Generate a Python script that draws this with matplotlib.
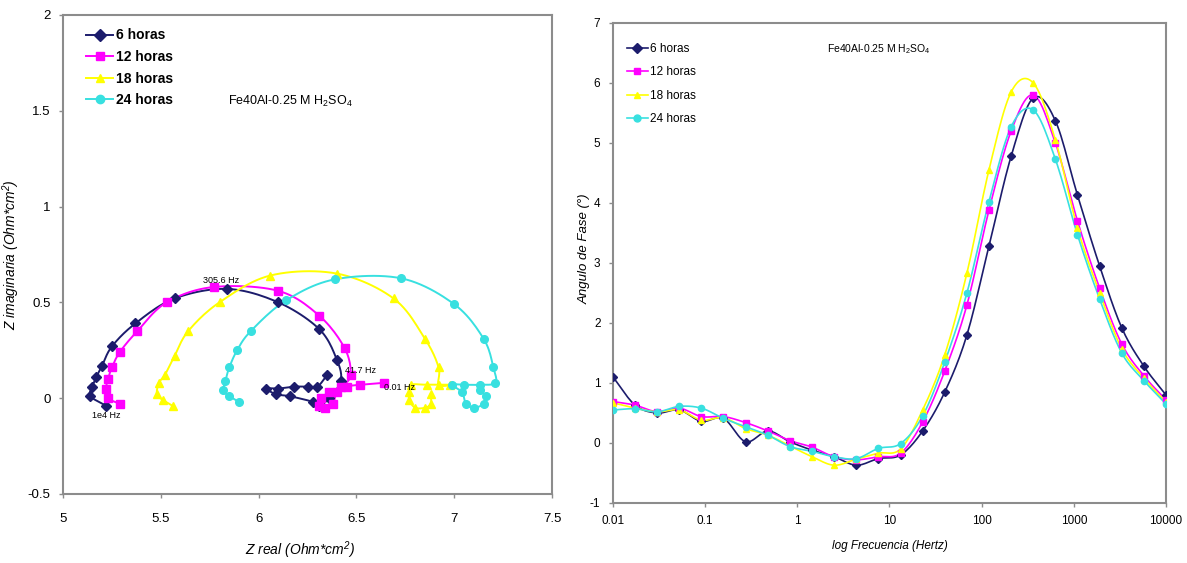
import numpy as np
import matplotlib
matplotlib.use("Agg")
import matplotlib.pyplot as plt
from matplotlib.lines import Line2D

plt.rcParams['font.family'] = ['Liberation Sans', 'DejaVu Sans']
plt.rcParams['mathtext.default'] = 'regular'
plt.rcParams['axes.unicode_minus'] = False

series = ["6 horas", "12 horas", "18 horas", "24 horas"]
colors = ["#1c1c6c", "#ff00ff", "#ffff00", "#38e0e0"]
markers = ["D", "s", "^", "o"]

# Nyquist data (Z real, Z imaginaria), high frequency -> low frequency
zr_6 = [5.22, 5.14, 5.15, 5.17, 5.20, 5.25, 5.37, 5.57, 5.84, 6.10, 6.31, 6.40, 6.42,
        6.36, 6.31, 6.28, 6.16, 6.09, 6.04, 6.10, 6.18, 6.25, 6.30, 6.35]
zi_6 = [-0.04, 0.01, 0.06, 0.11, 0.17, 0.27, 0.39, 0.52, 0.57, 0.50, 0.36, 0.20, 0.09,
        0.00, -0.04, -0.02, 0.01, 0.02, 0.05, 0.05, 0.06, 0.06, 0.06, 0.12]
zr_12 = [5.29, 5.23, 5.22, 5.23, 5.25, 5.29, 5.38, 5.53, 5.77, 6.10, 6.31, 6.44, 6.47,
         6.42, 6.36, 6.32, 6.31, 6.34, 6.38, 6.40, 6.45, 6.52, 6.64]
zi_12 = [-0.03, 0.00, 0.05, 0.10, 0.16, 0.24, 0.35, 0.50, 0.58, 0.56, 0.43, 0.26, 0.12,
         0.06, 0.03, 0.00, -0.04, -0.05, -0.03, 0.03, 0.06, 0.07, 0.08]
zr_18 = [5.56, 5.51, 5.48, 5.49, 5.52, 5.57, 5.64, 5.80, 6.06, 6.40, 6.69, 6.85, 6.92,
         6.92, 6.98, 6.86, 6.78, 6.77, 6.77, 6.80, 6.85, 6.88, 6.88]
zi_18 = [-0.04, -0.01, 0.02, 0.08, 0.12, 0.22, 0.35, 0.50, 0.64, 0.65, 0.52, 0.31, 0.16,
         0.07, 0.07, 0.07, 0.07, 0.03, -0.01, -0.05, -0.05, -0.03, 0.02]
zr_24 = [5.90, 5.85, 5.82, 5.83, 5.85, 5.89, 5.96, 6.14, 6.39, 6.73, 7.00, 7.15, 7.20,
         7.21, 7.13, 7.05, 6.99, 7.04, 7.06, 7.10, 7.15, 7.16, 7.13]
zi_24 = [-0.02, 0.01, 0.04, 0.09, 0.16, 0.25, 0.35, 0.51, 0.62, 0.625, 0.49, 0.31, 0.16,
         0.08, 0.07, 0.07, 0.07, 0.03, -0.03, -0.05, -0.03, 0.01, 0.04]

# Bode phase data
freq = [0.01, 0.0174, 0.0302, 0.0525, 0.0912, 0.158, 0.275, 0.479, 0.832, 1.45, 2.51,
        4.37, 7.59, 13.2, 22.9, 39.8, 69.2, 120, 209, 363, 631, 1096, 1905, 3311,
        5754, 10000]
fase_6 = [1.10, 0.63, 0.50, 0.55, 0.36, 0.41, 0.02, 0.20, 0.02, -0.12, -0.23, -0.37,
          -0.26, -0.20, 0.20, 0.85, 1.80, 3.28, 4.78, 5.75, 5.37, 4.13, 2.95, 1.92,
          1.28, 0.80]
fase_12 = [0.69, 0.63, 0.52, 0.58, 0.44, 0.44, 0.34, 0.20, 0.04, -0.07, -0.23, -0.28,
           -0.23, -0.17, 0.35, 1.20, 2.30, 3.88, 5.20, 5.80, 5.00, 3.70, 2.58, 1.65,
           1.12, 0.72]
fase_18 = [0.67, 0.58, 0.52, 0.55, 0.38, 0.42, 0.24, 0.13, -0.05, -0.23, -0.37, -0.27,
           -0.17, -0.10, 0.55, 1.47, 2.83, 4.55, 5.85, 6.00, 5.05, 3.58, 2.50, 1.57,
           1.08, 0.68]
fase_24 = [0.55, 0.57, 0.52, 0.61, 0.58, 0.41, 0.27, 0.13, -0.06, -0.14, -0.23, -0.26,
           -0.09, -0.01, 0.45, 1.35, 2.50, 4.02, 5.27, 5.55, 4.73, 3.47, 2.40, 1.50,
           1.04, 0.65]

nyq_r = [zr_6, zr_12, zr_18, zr_24]
nyq_i = [zi_6, zi_12, zi_18, zi_24]
fases = [fase_6, fase_12, fase_18, fase_24]


def smooth(x, y, n=12):
    # Catmull-Rom curve through the points, like a smoothed line
    x = np.asarray(x, float)
    y = np.asarray(y, float)
    px = np.concatenate([[2 * x[0] - x[1]], x, [2 * x[-1] - x[-2]]])
    py = np.concatenate([[2 * y[0] - y[1]], y, [2 * y[-1] - y[-2]]])
    t = np.linspace(0, 1, n, endpoint=False)
    ox, oy = [], []
    for i in range(1, len(px) - 2):
        for p, o in ((px, ox), (py, oy)):
            p0, p1, p2, p3 = p[i - 1], p[i], p[i + 1], p[i + 2]
            o.extend(0.5 * (2 * p1 + (-p0 + p2) * t
                            + (2 * p0 - 5 * p1 + 4 * p2 - p3) * t ** 2
                            + (-p0 + 3 * p1 - 3 * p2 + p3) * t ** 3))
    ox.append(x[-1])
    oy.append(y[-1])
    return np.array(ox), np.array(oy)


fig = plt.figure(figsize=(11.87, 5.63), dpi=100)
ax1 = fig.add_axes([0.0531, 0.1226, 0.412, 0.851])
ax2 = fig.add_axes([0.5164, 0.1066, 0.4659, 0.8526])

for ax in (ax1, ax2):
    for s in ax.spines.values():
        s.set_color("#8c8c8c")
        s.set_linewidth(1.5)
    ax.tick_params(direction="out", length=3, width=1, color="#8c8c8c",
                   labelsize=9.5, pad=6)

# Nyquist
for r, im, c, m in zip(nyq_r, nyq_i, colors, markers):
    sx, sy = smooth(r, im)
    ax1.plot(sx, sy, color=c, lw=1.4, zorder=2)
    ax1.plot(r, im, ls="none", marker=m, ms=5.5, color=c, mec=c, zorder=3)

ax1.set_xlim(5, 7.5)
ax1.set_ylim(-0.5, 2)
ax1.set_xticks([5, 5.5, 6, 6.5, 7, 7.5])
ax1.set_xticklabels(["5", "5.5", "6", "6.5", "7", "7.5"])
ax1.set_yticks([-0.5, 0, 0.5, 1, 1.5, 2])
ax1.set_yticklabels(["-0.5", "0", "0.5", "1", "1.5", "2"])
ax1.tick_params(axis="x", pad=11)
ax1.set_xlabel("Z real (Ohm*cm$^2$)", style="italic", fontsize=10)
ax1.xaxis.set_label_coords(0.485, -0.095)
ax1.set_ylabel("Z imaginaria (Ohm*cm$^2$)", style="italic", fontsize=10)
ax1.yaxis.set_label_coords(-0.083, 0.5)

ax1.text(5.81, 0.615, "305.6 Hz", fontsize=6.5, ha="center", va="center")
ax1.text(6.52, 0.145, "41.7 Hz", fontsize=6.5, ha="center", va="center")
ax1.text(6.72, 0.055, "0.01 Hz", fontsize=6.5, ha="center", va="center")
ax1.text(5.22, -0.09, "1e4 Hz", fontsize=6.5, ha="center", va="center")
ax1.text(6.16, 1.55, "Fe40Al-0.25 M H$_2$SO$_4$", fontsize=9, ha="center", va="center")

handles = [Line2D([], [], color=c, marker=m, ms=6, lw=1.4)
           for c, m in zip(colors, markers)]
ax1.legend(handles, series, loc="upper left", bbox_to_anchor=(0.028, 0.992),
           frameon=False, handlelength=1.9, handletextpad=0.25, labelspacing=0.55,
           borderaxespad=0.3, prop={"weight": "bold", "size": 10})

# Bode phase
lf = np.log10(freq)
for f, c, m in zip(fases, colors, markers):
    sx, sy = smooth(lf, f)
    ax2.plot(10 ** sx, sy, color=c, lw=1.2, zorder=2)
    ax2.plot(freq, f, ls="none", marker=m, ms=4.5, color=c, mec=c, zorder=3)

ax2.set_xscale("log")
ax2.set_xlim(0.01, 10000)
ax2.set_ylim(-1, 7)
ax2.set_xticks([0.01, 0.1, 1, 10, 100, 1000, 10000])
ax2.set_xticklabels(["0.01", "0.1", "1", "10", "100", "1000", "10000"])
ax2.minorticks_off()
ax2.set_yticks(range(-1, 8))
ax2.tick_params(labelsize=8.5)
ax2.set_xlabel("log Frecuencia (Hertz)", style="italic", fontsize=8.5, labelpad=9)
ax2.set_ylabel("Angulo de Fase (°)", style="italic", fontsize=9.5)
ax2.yaxis.set_label_coords(-0.04, 0.53)
ax2.text(0.48, 0.945, "Fe40Al-0.25 M H$_2$SO$_4$", transform=ax2.transAxes,
         fontsize=7.5, ha="center", va="center")
ax2.legend([Line2D([], [], color=c, marker=m, ms=5, lw=1.2)
            for c, m in zip(colors, markers)], series,
           loc="upper left", bbox_to_anchor=(0.01, 0.975), frameon=False,
           handlelength=1.8, handletextpad=0.2, labelspacing=0.95,
           borderaxespad=0.3, prop={"size": 8.5})

fig.savefig("out.png", dpi=100)
